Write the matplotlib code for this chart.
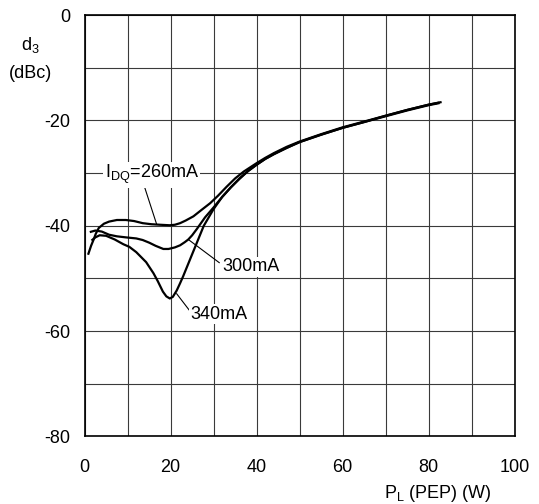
import matplotlib.pyplot as plt

plt.rcParams["font.family"] = ["Liberation Sans", "DejaVu Sans"]
plt.rcParams["mathtext.fontset"] = "custom"
plt.rcParams["mathtext.rm"] = "Liberation Sans"
plt.rcParams["mathtext.it"] = "Liberation Sans"
plt.rcParams["axes.unicode_minus"] = False

# Third-order IMD (d3) vs output power for three quiescent currents
p_260 = [0.8, 1.5, 2.1, 2.6, 3.3, 4.5, 5.7, 7.5, 9.6, 11.5, 13.5, 15.5, 17.5, 19.8,
         21, 22.2, 23.5, 25.3, 27, 29.2, 31, 33, 35, 37, 40, 42, 44, 47, 50, 55,
         60, 65, 70, 75, 80, 83]
d3_260 = [-45.5, -43.8, -42.6, -41.5, -40.4, -39.6, -39.2, -38.9, -38.9, -39.1,
          -39.5, -39.7, -39.8, -39.9, -39.8, -39.5, -39.0, -38.2, -37.1, -35.7,
          -34.3, -32.6, -31.0, -29.7, -28.1, -27.1, -26.2, -25.0, -24.0, -22.6,
          -21.3, -20.2, -19.1, -18.0, -17.0, -16.5]

p_300 = [1.2, 2.5, 4, 5.7, 7.5, 9.6, 12, 13.5, 15, 16.5, 18.3, 19.5, 21, 22.2,
         23.3, 24.1, 25, 26.1, 28, 30, 32, 34, 36, 38, 40, 42, 44, 47, 50, 55,
         60, 65, 70, 75, 80, 82.5]
d3_300 = [-41.2, -40.9, -41.1, -41.7, -42.0, -42.2, -42.4, -42.7, -43.2, -43.8,
          -44.4, -44.4, -44.1, -43.7, -43.1, -42.6, -41.8, -40.6, -38.4, -36.5,
          -34.5, -32.7, -31.1, -29.6, -28.4, -27.3, -26.4, -25.2, -24.1, -22.7,
          -21.4, -20.3, -19.2, -18.1, -17.1, -16.7]

p_340 = [1.6, 2.5, 3.5, 5, 7, 9, 10.4, 12, 14.3, 16, 17, 18.2, 19, 19.8, 20.5,
         21.4, 22.2, 22.9, 24.5, 26.1, 27.7, 30, 32, 34, 36, 38, 40, 42, 44, 47,
         50, 55, 60, 65, 70, 75, 80, 82.5]
d3_340 = [-42.8, -42.2, -41.8, -41.9, -42.6, -43.5, -44.0, -45.0, -46.9, -49.0,
          -50.5, -52.5, -53.4, -53.8, -53.5, -52.3, -50.9, -49.6, -46.4, -43.2,
          -40.0, -36.8, -34.5, -32.7, -31.0, -29.6, -28.4, -27.3, -26.4, -25.2,
          -24.1, -22.7, -21.4, -20.3, -19.1, -18.0, -17.0, -16.6]

x_ticks = [0, 20, 40, 60, 80, 100]
y_ticks = [0, -20, -40, -60, -80]

fig = plt.figure(figsize=(5.39, 5.04), dpi=100)
ax = fig.add_axes([0.157, 0.134, 0.798, 0.836])

for p, d in [(p_260, d3_260), (p_300, d3_300), (p_340, d3_340)]:
    ax.plot(p, d, color="black", lw=1.6, solid_capstyle="butt")

ax.set_xlim(0, 100)
ax.set_ylim(-80, 0)
ax.set_xticks(x_ticks)
ax.set_yticks(y_ticks)
ax.set_xticks(range(0, 101, 10), minor=True)
ax.set_yticks(range(-80, 1, 10), minor=True)
ax.grid(True, which="both", color="#3a3a3a", lw=0.8)
ax.tick_params(which="both", length=0, labelsize=13)
ax.tick_params(axis="x", pad=16)
ax.tick_params(axis="y", pad=10)
for s in ax.spines.values():
    s.set_linewidth(1.2)

box = dict(facecolor="white", edgecolor="none", pad=1)

# current labels with leader lines
ax.plot([14.0, 16.7], [-32.8, -39.6], color="black", lw=0.8)
ax.text(15.6, -30.3, r"I$_{\rm DQ}$=260mA", fontsize=13, ha="center",
        va="center", bbox=box)
ax.plot([24.1, 31.3], [-42.6, -47.0], color="black", lw=0.8)
ax.text(32.0, -47.8, "300mA", fontsize=13, ha="left", va="center", bbox=box)
ax.plot([21.4, 24.5], [-52.9, -56.2], color="black", lw=0.8)
ax.text(24.6, -56.8, "340mA", fontsize=13, ha="left", va="center", bbox=box)

fig.text(30 / 539, 1 - 45 / 504, r"d$_3$", fontsize=13, ha="center", va="center")
fig.text(30 / 539, 1 - 74 / 504, "(dBc)", fontsize=13, ha="center", va="center")
fig.text(438 / 539, 1 - 494 / 504, r"P$_{\rm L}$ (PEP) (W)", fontsize=13,
         ha="center", va="center")

fig.savefig("out.png", dpi=100)
plt.close(fig)
